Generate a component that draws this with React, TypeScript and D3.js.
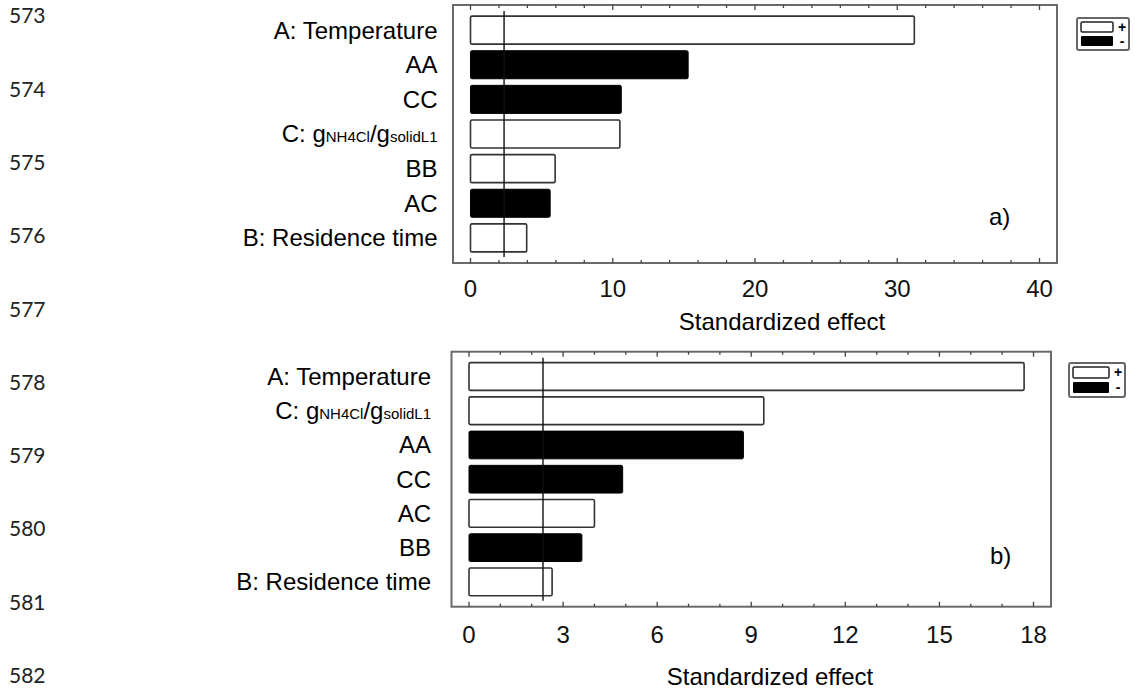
import { scaleBand, scaleLinear, range } from "d3";

const W = 1139;
const H = 697;

// line numbers printed down the left margin of the manuscript page
const lineNumbers = [573, 574, 575, 576, 577, 578, 579, 580, 581, 582];

// panel a)
const termsA = ["A: Temperature", "AA", "CC", "C: gNH4Cl/gsolidL1", "BB", "AC", "B: Residence time"];
const effectsA = [31.2, 15.3, 10.6, 10.5, 5.95, 5.6, 3.95];
const signsA = ["+", "-", "-", "+", "+", "-", "+"];
const ticksA = [0, 10, 20, 30, 40];

// panel b)
const termsB = ["A: Temperature", "C: gNH4Cl/gsolidL1", "AA", "CC", "AC", "BB", "B: Residence time"];
const effectsB = [17.7, 9.4, 8.75, 4.9, 4.0, 3.6, 2.65];
const signsB = ["+", "+", "-", "-", "+", "-", "+"];
const ticksB = [0, 3, 6, 9, 12, 15, 18];

// critical value of the standardized effect (vertical line)
const criticalT = 2.36;

const SANS = "'Liberation Sans', Arial, sans-serif";
const NARROW = "'Liberation Sans Narrow', 'Arial Narrow', 'Liberation Sans', Arial, sans-serif";

const TermLabel = ({ term, x, y }) => {
  if (term.startsWith("C: g")) {
    return (
      <text x={x} y={y} dy="0.35em" textAnchor="end" fontSize={24} fontFamily={SANS}>
        <tspan>C: g</tspan>
        <tspan fontSize={15}>NH4Cl</tspan>
        <tspan>/g</tspan>
        <tspan fontSize={15}>solidL1</tspan>
      </text>
    );
  }
  return (
    <text x={x} y={y} dy="0.35em" textAnchor="end" fontSize={24} fontFamily={SANS}>
      {term}
    </text>
  );
};

const Legend = ({ x, y, w, h }) => {
  const sw = w - 20;
  const sh = (h - 10) / 2 - 1;
  return (
    <g transform={`translate(${x},${y})`}>
      <rect x={0} y={0} width={w} height={h} rx={2} fill="white" stroke="#666" strokeWidth={2} />
      <rect x={4} y={4} width={sw} height={sh} rx={1.5} fill="white" stroke="#222" strokeWidth={1.5} />
      <rect x={4} y={h - 4 - sh} width={sw} height={sh} rx={1} fill="black" />
      <text x={w - 7} y={4 + sh / 2} dy="0.35em" textAnchor="middle" fontSize={14} fontWeight="bold" fontFamily={SANS}>
        +
      </text>
      <text x={w - 7} y={h - 4 - sh / 2} dy="0.35em" textAnchor="middle" fontSize={14} fontWeight="bold" fontFamily={SANS}>
        -
      </text>
    </g>
  );
};

const Panel = ({
  terms,
  effects,
  signs,
  ticks,
  minorStep,
  frame,
  labelRight,
  tickLabelY,
  titleX,
  titleY,
  tag,
  tagX,
  tagY,
  legend,
}) => {
  const xMax = ticks[ticks.length - 1];
  const x = scaleLinear()
    .domain([0, xMax])
    .range([frame.left + 17.5, frame.right - 17.5]);
  const y = scaleBand()
    .domain(terms)
    .range([frame.top, frame.bottom])
    .paddingInner(0.19)
    .paddingOuter(0.32);
  const minor = range(0, xMax + minorStep / 2, minorStep);

  return (
    <g>
      {/* bars */}
      {terms.map((t, i) => (
        <rect
          key={t}
          x={x(0)}
          y={y(t)}
          width={x(effects[i]) - x(0)}
          height={y.bandwidth()}
          rx={1.5}
          fill={signs[i] === "+" ? "white" : "black"}
          stroke={signs[i] === "+" ? "#333" : "black"}
          strokeWidth={signs[i] === "+" ? 1.6 : 1}
        />
      ))}

      {/* critical value line */}
      <line
        x1={x(criticalT)}
        x2={x(criticalT)}
        y1={frame.top + 6}
        y2={frame.bottom - 6}
        stroke="#111"
        strokeWidth={1.4}
      />

      {/* frame */}
      <rect
        x={frame.left}
        y={frame.top}
        width={frame.right - frame.left}
        height={frame.bottom - frame.top}
        fill="none"
        stroke="#6a6a6a"
        strokeWidth={2}
      />

      {/* ticks, top and bottom, pointing inward */}
      {minor.map((v) => {
        const major = ticks.includes(v);
        const len = major ? 5 : 3;
        return (
          <g key={v} stroke="#444" strokeWidth={1.3}>
            <line x1={x(v)} x2={x(v)} y1={frame.top} y2={frame.top + len} />
            <line x1={x(v)} x2={x(v)} y1={frame.bottom} y2={frame.bottom - len} />
          </g>
        );
      })}

      {ticks.map((v) => (
        <text
          key={v}
          x={x(v)}
          y={tickLabelY}
          dy="0.35em"
          textAnchor="middle"
          fontSize={24}
          fontFamily={NARROW}
          fill="#111"
        >
          {v}
        </text>
      ))}

      {terms.map((t) => (
        <TermLabel key={t} term={t} x={labelRight} y={y(t) + y.bandwidth() / 2} />
      ))}

      <text x={titleX} y={titleY} dy="0.35em" textAnchor="middle" fontSize={24} fontFamily={SANS}>
        Standardized effect
      </text>

      <text x={tagX} y={tagY} dy="0.35em" fontSize={24} fontFamily={SANS}>
        {tag}
      </text>

      <Legend {...legend} />
    </g>
  );
};

export default function App() {
  return (
    <svg
      width={W}
      height={H}
      style={{ position: "absolute", left: 0, top: 0, background: "white" }}
    >
      <rect x={0} y={0} width={W} height={H} fill="white" />

      {lineNumbers.map((n, i) => (
        <text
          key={n}
          x={9}
          y={16 + i * 73.3}
          dy="0.35em"
          fontSize={21}
          fontFamily="Lato, 'Open Sans', sans-serif"
          fill="#222"
        >
          {n}
        </text>
      ))}

      <Panel
        terms={termsA}
        effects={effectsA}
        signs={signsA}
        ticks={ticksA}
        minorStep={2}
        frame={{ left: 453, right: 1057, top: 5, bottom: 263 }}
        labelRight={437.5}
        tickLabelY={289}
        titleX={782}
        titleY={322}
        tag="a)"
        tagX={989}
        tagY={217}
        legend={{ x: 1077, y: 18, w: 52, h: 32 }}
      />

      <Panel
        terms={termsB}
        effects={effectsB}
        signs={signsB}
        ticks={ticksB}
        minorStep={1}
        frame={{ left: 451.5, right: 1051, top: 351.7, bottom: 606.7 }}
        labelRight={431}
        tickLabelY={635}
        titleX={770}
        titleY={677}
        tag="b)"
        tagX={990}
        tagY={556}
        legend={{ x: 1069, y: 363, w: 56, h: 34 }}
      />
    </svg>
  );
}
